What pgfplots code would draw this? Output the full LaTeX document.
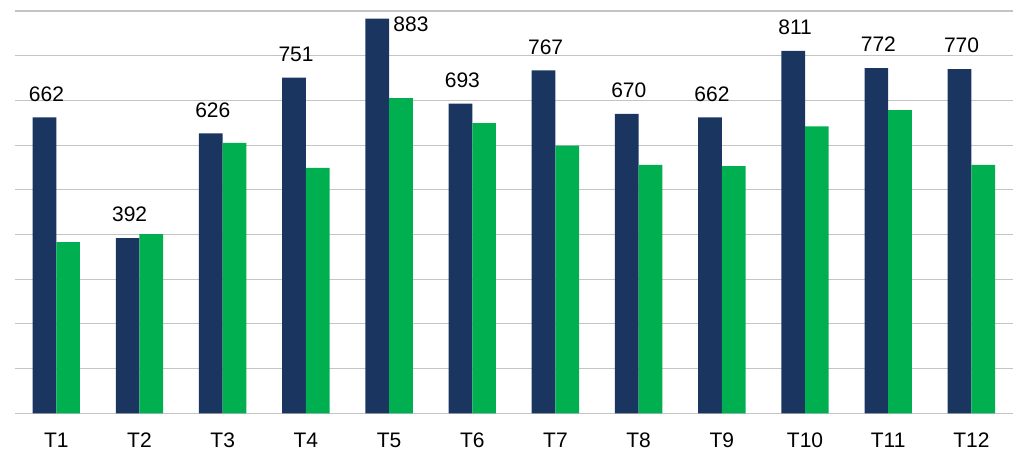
\documentclass[border=0pt]{standalone}
\usepackage{pgfplots}
\pgfplotsset{compat=1.18}
\usepackage{fontspec}
\setmainfont{Liberation Sans}

\definecolor{navy}{HTML}{1A3660}
\definecolor{barGreen}{HTML}{00B050}
\definecolor{gridGray}{HTML}{C4C4C4}

\begin{document}
\begin{tikzpicture}[x=1pt,y=1pt]
\useasboundingbox (0,0) rectangle (1013,452);
\begin{axis}[
  at={(14.7pt,38.7pt)}, anchor=south west,
  scale only axis,
  width=998.3pt, height=402.3pt,
  xmin=-0.5, xmax=11.5,
  ymin=0, ymax=900,
  axis line style={draw=none},
  /pgf/number format/assume math mode=true,
  xtick={0,...,11},
  xticklabels={T1,T2,T3,T4,T5,T6,T7,T8,T9,T10,T11,T12},
  major tick length=0pt,
  xticklabel style={anchor=base, inner sep=0pt, yshift=-34pt,
    font=\fontsize{21}{25}\selectfont},
  ytick={0,100,...,900},
  yticklabels={},
  ymajorgrids,
  major grid style={gridGray, line width=1.1pt},
  ybar, bar width=23.7pt,
  clip=false,
]
% first series, with its value above each bar
\addplot[fill=navy, draw=none, bar shift=-11.85pt,
  nodes near coords={\pgfmathprintnumber[assume math mode=true]{\pgfplotspointmeta}},
  every node near coord/.append style={anchor=base, inner sep=0pt,
    xshift=2pt, yshift=16.3pt, text=black,
    font=\fontsize{21}{25}\selectfont},
  coordinate style/.condition={x==4}{xshift=31.8pt, yshift=-29.3pt},
] coordinates {
  (0,662) (1,392) (2,626) (3,751) (4,883) (5,693)
  (6,767) (7,670) (8,662) (9,811) (10,772) (11,770)
};
% second series
\addplot[fill=barGreen, draw=none, bar shift=11.85pt] coordinates {
  (0,383) (1,401) (2,605) (3,549) (4,705) (5,649)
  (6,599) (7,556) (8,553) (9,642) (10,678) (11,556)
};
\end{axis}
\end{tikzpicture}
\end{document}
